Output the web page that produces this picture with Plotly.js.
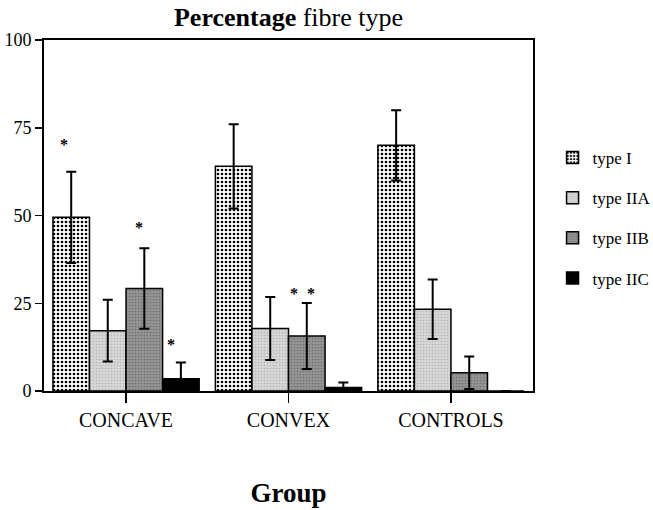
<!DOCTYPE html>
<html><head><meta charset="utf-8">
<script src="https://cdn.plot.ly/plotly-3.0.1.min.js"></script>
<style>html,body{margin:0;padding:0;background:#fff}#chart{width:653px;height:510px}</style>
</head><body><div id="chart"></div>
<script>
const groups = ["CONCAVE", "CONVEX", "CONTROLS"];
const seriesNames = ["type I", "type IIA", "type IIB", "type IIC"];
const typeI   = [49.5, 64.0, 70.0];
const typeIIA = [17.2, 17.8, 23.3];
const typeIIB = [29.2, 15.7, 5.2];
const typeIIC = [3.5, 1.0, 0];
const errI   = [13.0, 12.0, 10.0];
const errIIA = [8.8, 9.0, 8.5];
const errIIB = [11.5, 9.4, 4.6];
const errIIC = [4.6, 1.4, 0];
const yTicks = [0, 25, 50, 75, 100];
// significance markers: [group, value]
const starGroups = ["CONCAVE", "CONCAVE", "CONCAVE", "CONVEX", "CONVEX"];
const starValues = [71.5, 47.8, 14.3, 29.0, 29.0];
const starShift  = [-62, 13, 45, 5, 22];

const styles = [
  {color: "white", pattern: {shape: ".", fgcolor: "black", bgcolor: "white", size: 4, solidity: 0.35}},
  {color: "#d2d2d2", pattern: {shape: ".", fgcolor: "#b4b4b4", bgcolor: "#d6d6d6", size: 3, solidity: 0.2}},
  {color: "#8e8e8e", pattern: {shape: ".", fgcolor: "#6e6e6e", bgcolor: "#959595", size: 3, solidity: 0.25}},
  {color: "black"}
];
const vals = [typeI, typeIIA, typeIIB, typeIIC];
const errs = [errI, errIIA, errIIB, errIIC];

const traces = vals.map((v, i) => ({
  type: "bar", name: seriesNames[i], x: groups, y: v,
  legendgroup: "g" + i,
  marker: Object.assign({line: {color: "black", width: 1.5}}, styles[i]),
  error_y: {type: "data", array: errs[i], visible: true, color: "black", thickness: 2, width: 5},
  hoverinfo: "skip"
}));

const font = "Liberation Serif, Times New Roman, serif";
const annotations = starGroups.map((g, i) => ({
  x: g, y: starValues[i], xref: "x", yref: "y", text: "<b>*</b>", showarrow: false,
  xshift: starShift[i], yshift: -4, opacity: 0.99,
  font: {family: font, size: 16, color: "black"}
}));

const layout = {
  width: 653, height: 510,
  margin: {l: 44, r: 120, t: 40, b: 119, autoexpand: false},
  paper_bgcolor: "white", plot_bgcolor: "white",
  barmode: "group", bargap: 0.1, bargroupgap: 0,
  font: {family: font, color: "black"},
  title: {text: "<b>Percentage</b> fibre type", font: {family: font, size: 26, color: "black"},
          x: 0.5, xref: "paper", xanchor: "center", y: 0.966, yanchor: "middle"},
  xaxis: {
    range: [-0.505, 2.505], showline: true, linewidth: 2, linecolor: "black", mirror: true,
    ticks: "outside", ticklen: 10, tickwidth: 1.5, tickcolor: "black",
    tickfont: {family: font, size: 20}, showgrid: false, zeroline: false,
    title: {text: "<b>Group</b>", font: {family: font, size: 27}, standoff: 53}
  },
  yaxis: {
    range: [0, 100], tickvals: yTicks, showline: true, linewidth: 2, linecolor: "black", mirror: true,
    ticks: "outside", ticklen: 7, tickwidth: 1.5, tickcolor: "black",
    tickfont: {family: font, size: 18}, showgrid: false, zeroline: false
  },
  legend: {x: 1.04, xanchor: "left", y: 0.715, yanchor: "top", tracegroupgap: 15,
           font: {family: font, size: 17}, bgcolor: "rgba(0,0,0,0)"},
  annotations: annotations
};
Plotly.newPlot("chart", traces, layout, {staticPlot: true});
</script></body></html>
